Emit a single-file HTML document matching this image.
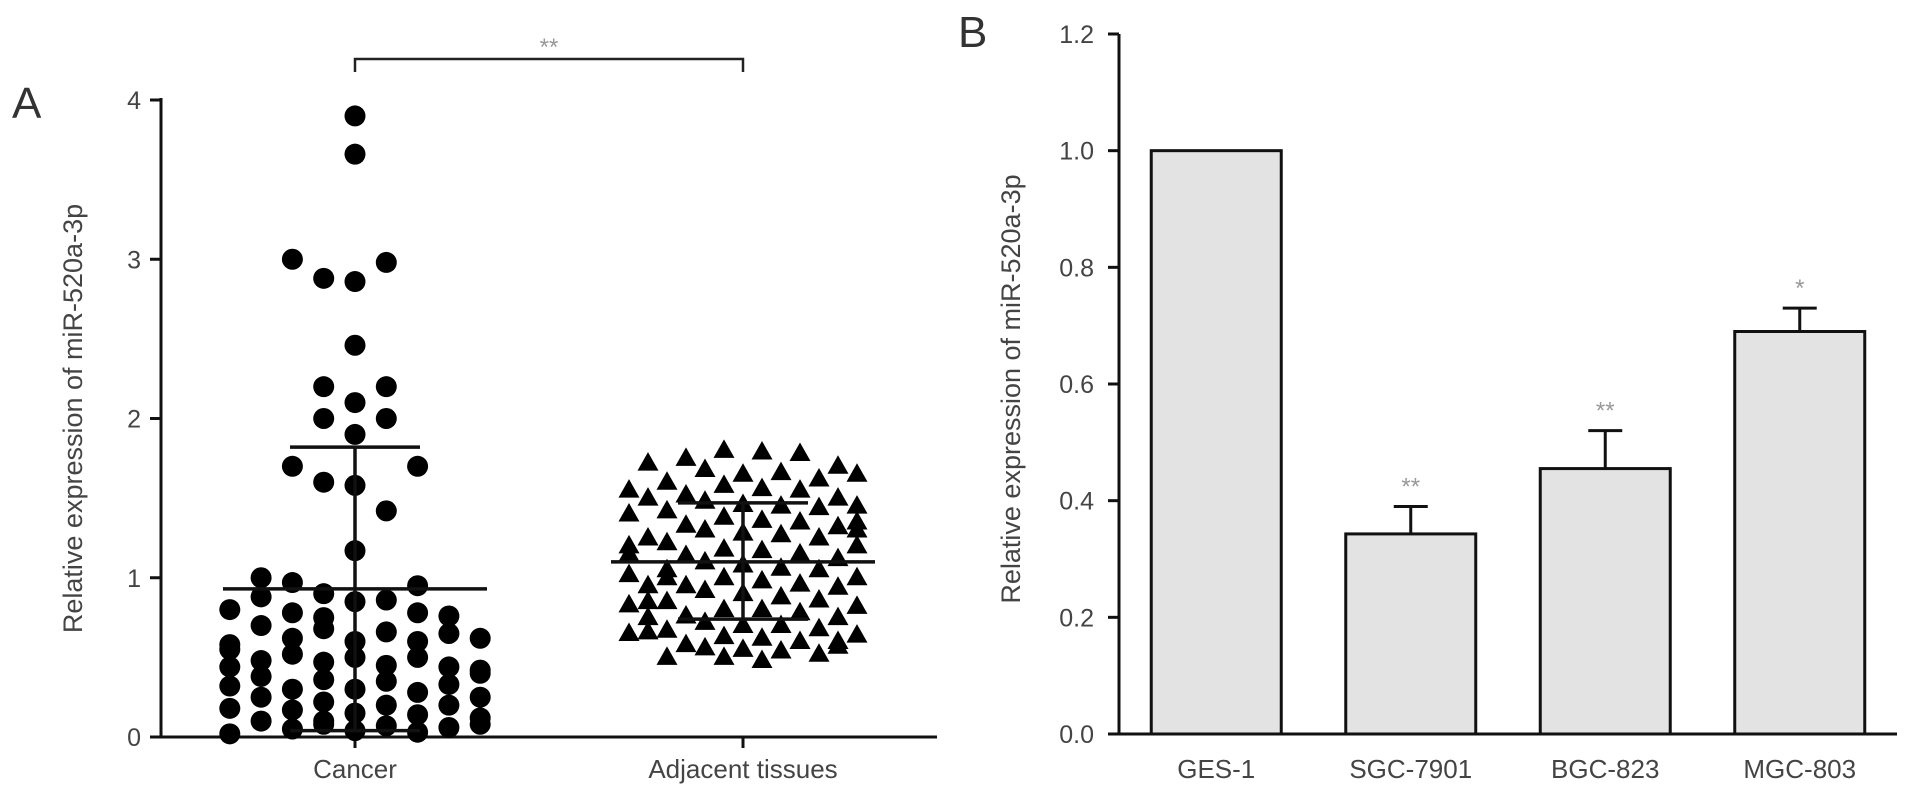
<!DOCTYPE html>
<html><head><meta charset="utf-8">
<style>
html,body{margin:0;padding:0;background:#fff;}
svg{display:block;font-family:"Liberation Sans",sans-serif;}
</style></head>
<body>
<svg id="chart" width="1913" height="803" viewBox="0 0 1913 803" xmlns="http://www.w3.org/2000/svg">
<text x="12" y="118" font-size="44" fill="#333">A</text>
<text x="958" y="47" font-size="44" fill="#333">B</text>
<g id="pa"></g>
<g id="pb"></g>
</svg>
<script>
const NS="http://www.w3.org/2000/svg";
function mk(p,t,a){const e=document.createElementNS(NS,t);for(const k in a)e.setAttribute(k,a[k]);p.appendChild(e);return e;}

// ---------- Panel A data ----------
const aCategories=["Cancer","Adjacent tissues"];
const aTicks=[0,1,2,3,4];
const cancerVals=[3.9,3.66,3.0,2.98,2.88,2.86,2.46,2.2,2.2,2.1,2.0,2.0,1.9,1.7,1.7,1.6,1.58,1.42,1.17,1.0,0.97,0.95,
0.88,0.9,0.85,0.86,0.8,0.78,0.78,0.76,0.75,
0.7,0.68,0.66,0.65,0.62,0.6,0.6,
0.55,0.52,0.5,0.5,0.48,0.47,0.45,0.44,0.42,
0.38,0.36,0.35,0.33,0.32,0.3,0.3,0.28,
0.25,0.22,0.2,0.2,0.18,0.17,0.15,0.14,0.12,
0.1,0.08,0.07,0.06,0.05,0.04,0.03,0.02,0.08,0.1,
0.62,0.44,0.25,0.58,0.4];
const cancerCols=[0,0,-2,1,-1,0,0,-1,1,0,-1,1,0,-2,2,-1,0,1,0,-3,-2,2,
-3,-1,0,1,-4,-2,2,3,-1,
-3,-1,1,3,-2,0,2,
-4,-2,0,2,-3,-1,1,3,4,
-3,-1,1,3,-4,-2,0,2,
-3,-1,1,3,-4,-2,0,2,4,
-3,-1,1,3,-2,0,2,-4,4,-1,
4,-4,4,-4,4];
const cancerMean=0.93, cancerSD=[0.04,1.82];
const adjVals=[1.8,1.79,1.78,1.75,1.72,1.7,1.68,1.66,1.65,1.62,
1.6,1.58,1.56,1.55,1.52,1.5,1.5,1.48,1.46,1.45,1.44,1.42,
1.4,1.38,1.36,1.35,1.33,1.32,1.3,1.28,1.27,1.25,
1.22,1.2,1.2,1.18,1.17,1.15,1.14,1.12,1.1,1.08,1.06,
1.05,1.02,1.0,1.0,0.98,0.96,0.95,0.94,0.92,0.9,
0.88,0.86,0.85,0.83,0.82,0.8,0.8,0.78,0.76,0.75,
0.72,0.7,0.7,0.68,0.67,0.65,0.64,0.63,0.62,0.6,
0.58,0.57,0.56,0.55,0.54,0.52,0.5,0.5,0.48,
1.65,1.35,1.05,0.75,1.55,1.25,0.95,0.66,1.45,1.15,0.85,0.6,1.3,1.0];
const adjCols=[-1,1,3,-3,-5,5,-2,2,0,4,
-4,-1,1,3,-3,-5,5,-2,0,2,4,-4,
-6,-1,1,3,-3,5,-2,0,2,4,
-4,-6,6,-1,1,3,-3,5,-2,0,2,
-4,-6,6,-1,1,3,-3,5,-2,0,
2,4,-4,-6,6,-1,1,3,-3,5,
-2,0,2,4,-4,-6,6,-1,1,3,
-3,5,-2,0,2,4,-4,-1,1,
6,6,4,-5,-6,-5,-5,-5,6,-6,-5,5,6,-4];
const adjMean=1.1, adjSD=[0.74,1.47];

// ---------- Panel B data ----------
const bCategories=["GES-1","SGC-7901","BGC-823","MGC-803"];
const bValues=[1.0,0.343,0.455,0.69];
const bErrors=[0,0.047,0.065,0.04];
const bStars=["","**","**","*"];
const bTicks=[0.0,0.2,0.4,0.6,0.8,1.0,1.2];

// ---------- Panel A draw ----------
const pa=document.getElementById('pa');
const aX0=161,aX1=937,aY0=737,aY1=100;
const ay=v=>aY0-(v/4)*(aY0-aY1);
const aCenters=[355,743];
const ax=i=>aCenters[i];
let e;
e=mk(pa,'line',{x1:aX0,y1:aY1-2,x2:aX0,y2:aY0,stroke:'#111','stroke-width':3});

e=mk(pa,'line',{x1:aX0,y1:aY0,x2:aX1,y2:aY0,stroke:'#111','stroke-width':3});

aTicks.forEach(t=>{
  e=mk(pa,'line',{x1:aX0-11,y1:ay(t),x2:aX0,y2:ay(t),stroke:'#111','stroke-width':3});
  
  e=mk(pa,'text',{x:aX0-20,y:ay(t)+9,'text-anchor':'end','font-size':25,fill:'#444'});e.textContent=t;
  
});
aCategories.forEach((c,i)=>{
  e=mk(pa,'line',{x1:ax(i),y1:aY0,x2:ax(i),y2:aY0+11,stroke:'#111','stroke-width':3});
  
  e=mk(pa,'text',{x:ax(i),y:aY0+41,'text-anchor':'middle','font-size':26,fill:'#444'});e.textContent=c;
  
});
e=mk(pa,'text',{transform:`translate(82,${(aY0+aY1)/2}) rotate(-90)`,'text-anchor':'middle','font-size':27,fill:'#444'});
e.textContent='Relative expression of miR-520a-3p';

cancerVals.forEach((v,i)=>{
  e=mk(pa,'circle',{cx:ax(0)+cancerCols[i]*31.3,cy:ay(v),r:10.5,fill:'#000'});
  
});
adjVals.forEach((v,i)=>{
  const cx=ax(1)+adjCols[i]*19,cy=ay(v);
  e=mk(pa,'polygon',{points:`${cx},${cy-11} ${cx-10.5},${cy+7.5} ${cx+10.5},${cy+7.5}`,fill:'#000'});
  
});
function meanSD(i,m,sd,hw,cw,name){
  const cx=ax(i);
  e=mk(pa,'line',{x1:cx-hw,y1:ay(m),x2:cx+hw,y2:ay(m),stroke:'#111','stroke-width':3.5});
  
  e=mk(pa,'line',{x1:cx,y1:ay(sd[0]),x2:cx,y2:ay(sd[1]),stroke:'#111','stroke-width':3.5});
  
  sd.forEach(s=>{e=mk(pa,'line',{x1:cx-cw,y1:ay(s),x2:cx+cw,y2:ay(s),stroke:'#111','stroke-width':3.5});
  });
}
meanSD(0,cancerMean,cancerSD,132,65,'cancer');
meanSD(1,adjMean,adjSD,132,65,'adjacent');
e=mk(pa,'path',{d:`M${ax(0)},72 V59 H${ax(1)} V72`,fill:'none',stroke:'#222','stroke-width':2.5});

e=mk(pa,'text',{x:(ax(0)+ax(1))/2,y:55,'text-anchor':'middle','font-size':24,fill:'#999'});e.textContent='**';


// ---------- Panel B draw ----------
const pb=document.getElementById('pb');
const bX0=1119,bX1=1897,bY0=734,bY1=34;
const by=v=>bY0-(v/1.2)*(bY0-bY1);
const bStep=(bX1-bX0)/bCategories.length;
const bx=i=>bX0+bStep*(i+0.5);
const bw=130;
e=mk(pb,'line',{x1:bX0,y1:bY1,x2:bX0,y2:bY0,stroke:'#111','stroke-width':3});

e=mk(pb,'line',{x1:bX0,y1:bY0,x2:bX1,y2:bY0,stroke:'#111','stroke-width':3});

bTicks.forEach(t=>{
  e=mk(pb,'line',{x1:bX0-11,y1:by(t),x2:bX0,y2:by(t),stroke:'#111','stroke-width':3});
  
  e=mk(pb,'text',{x:bX0-25,y:by(t)+9,'text-anchor':'end','font-size':25,fill:'#444'});e.textContent=t.toFixed(1);
  
});
e=mk(pb,'text',{transform:`translate(1020,${(bY0+bY1)/2+5}) rotate(-90)`,'text-anchor':'middle','font-size':27,fill:'#444'});
e.textContent='Relative expression of miR-520a-3p';

bCategories.forEach((c,i)=>{
  const cx=bx(i);
  e=mk(pb,'rect',{x:cx-bw/2,y:by(bValues[i]),width:bw,height:bY0-by(bValues[i]),fill:'#e3e3e3',stroke:'#111','stroke-width':3});
  
  if(bErrors[i]>0){
    const top=by(bValues[i]+bErrors[i]);
    e=mk(pb,'path',{d:`M${cx},${by(bValues[i])} V${top} M${cx-17},${top} H${cx+17}`,stroke:'#111','stroke-width':3,fill:'none'});
    
  }
  if(bStars[i]){
    e=mk(pb,'text',{x:cx,y:by(bValues[i]+bErrors[i])-12,'text-anchor':'middle','font-size':24,fill:'#999'});e.textContent=bStars[i];
    
  }
  e=mk(pb,'text',{x:cx,y:bY0+44,'text-anchor':'middle','font-size':26,fill:'#444'});e.textContent=c;
  
});
</script>
</body></html>
